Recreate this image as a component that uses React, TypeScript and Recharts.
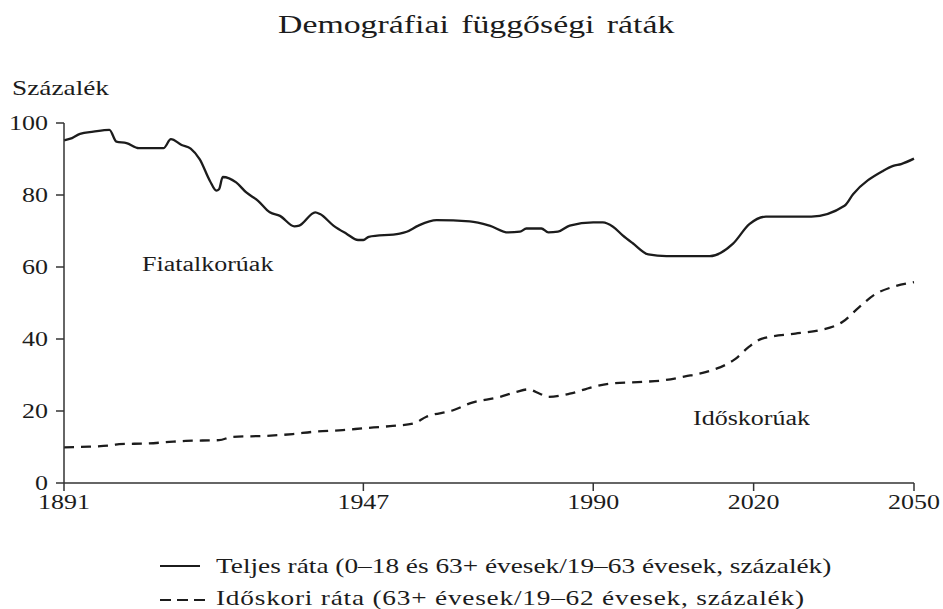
import { LineChart, Line, XAxis, YAxis } from "recharts";

const totalYears = [
  1891, 1892.5, 1894, 1896.5, 1899.5, 1900.8, 1902.7, 1905, 1909.6, 1911, 1913,
  1914.7, 1916.4, 1918.3, 1919.5, 1920, 1920.7, 1923.2, 1925.1, 1927.3, 1929.5,
  1931.4, 1934.1, 1935, 1938, 1938.9, 1941.4, 1943.9, 1946, 1947, 1948, 1953.8,
  1955.1, 1957.3, 1960.7, 1966.9, 1970.6, 1974.1, 1976.3, 1977.5, 1980.3, 1981.6,
  1983.4, 1985.6, 1990, 1991.8, 1993.7, 1995.5, 1997.4, 2000.3, 2003.7, 2011.8,
  2016.1, 2019.2, 2022.3, 2030.8, 2037, 2038.6, 2044.2, 2046.1, 2047.6, 2050,
];
const totalRate = [
  95.2, 95.8, 97.0, 97.6, 98.1, 94.8, 94.4, 93.0, 93.0, 95.5, 93.9, 92.9, 89.9,
  83.9, 81.2, 81.6, 85.0, 83.5, 80.7, 78.4, 75.2, 74.2, 71.3, 71.5, 75.2, 74.7,
  71.5, 69.2, 67.5, 67.5, 68.4, 69.3, 69.8, 71.5, 73.0, 72.7, 71.5, 69.6, 69.8,
  70.7, 70.7, 69.6, 69.8, 71.5, 72.4, 72.4, 71.2, 68.8, 66.6, 63.5, 63.0, 63.0,
  66.4, 71.9, 74.0, 74.0, 77.0, 80.2, 86.7, 88.1, 88.6, 90.1,
];

const oldYears = [
  1891, 1895.7, 1900.1, 1901.3, 1906.9, 1910.7, 1913.8, 1920, 1922.5, 1928.8,
  1933.8, 1937.5, 1943.1, 1947, 1952, 1956.3, 1958.8, 1963.8, 1966.9, 1972.5,
  1975.6, 1977.8, 1980, 1981.6, 1985.6, 1990, 1993.1, 1999.3, 2003, 2007.2, 2011,
  2016.6, 2019.1, 2021.6, 2027.8, 2032.2, 2036.6, 2039.7, 2042.8, 2045.9, 2050,
];
const oldRate = [
  9.9, 10.1, 10.5, 10.8, 11.0, 11.4, 11.7, 11.9, 12.8, 13.1, 13.6, 14.2, 14.7,
  15.2, 15.8, 16.5, 18.4, 20.2, 22.1, 23.9, 25.3, 26.0, 24.8, 23.9, 24.8, 26.7,
  27.6, 28.1, 28.5, 29.6, 30.8, 34.5, 37.8, 40.1, 41.5, 42.4, 44.7, 48.8, 52.5,
  54.4, 55.8,
];

const xTicks = [1891, 1947, 1990, 2020, 2050];
const yTicks = [0, 20, 40, 60, 80, 100];

const totalData = totalYears.map((year, i) => ({ year, value: totalRate[i] }));
const oldData = oldYears.map((year, i) => ({ year, value: oldRate[i] }));

const FONT = '"Liberation Serif", serif';
const INK = "#1c1c1c";
// the scanned type is noticeably wider than Times, so stretch it sideways
const STRETCH = 1.3;

const textStyle = (left: number, top: number, size: number): React.CSSProperties => ({
  position: "absolute",
  left,
  top,
  fontSize: size,
  lineHeight: `${size}px`,
  whiteSpace: "nowrap",
  color: INK,
  transform: `scaleX(${STRETCH})`,
  transformOrigin: "0 0",
});

function XTick(props: any) {
  const { x, y, payload } = props;
  return (
    <g transform={`translate(${x},${y})`}>
      <text
        transform={`scale(${STRETCH},1)`}
        textAnchor="middle"
        dy="0.71em"
        fill={INK}
        fontSize={20}
        fontFamily={FONT}
      >
        {payload.value}
      </text>
    </g>
  );
}

function YTick(props: any) {
  const { x, y, payload } = props;
  return (
    <g transform={`translate(${x},${y})`}>
      <text
        transform={`scale(${STRETCH},1)`}
        textAnchor="end"
        dy="0.355em"
        fill={INK}
        fontSize={20}
        fontFamily={FONT}
      >
        {payload.value}
      </text>
    </g>
  );
}

export default function App() {
  return (
    <div
      style={{
        position: "absolute",
        left: 0,
        top: 0,
        width: 943,
        height: 609,
        background: "#fff",
        fontFamily: FONT,
      }}
    >
      <div style={{ ...textStyle(278, 12, 26), wordSpacing: 3 }}>
        Demográfiai függőségi ráták
      </div>
      <div style={textStyle(12, 78, 21)}>Százalék</div>

      <LineChart
        width={943}
        height={609}
        margin={{ top: 123, right: 29, bottom: 96, left: 4 }}
      >
        <XAxis
          type="number"
          dataKey="year"
          domain={[1891, 2050]}
          ticks={xTicks}
          allowDuplicatedCategory={false}
          height={30}
          tick={<XTick />}
          tickSize={8}
          tickMargin={4}
          stroke="#333"
          strokeWidth={1.5}
        />
        <YAxis
          type="number"
          domain={[0, 100]}
          ticks={yTicks}
          width={60}
          tick={<YTick />}
          tickSize={8}
          tickMargin={8}
          stroke="#333"
          strokeWidth={1.5}
        />
        <Line
          data={totalData}
          dataKey="value"
          type="monotone"
          stroke={INK}
          strokeWidth={2.3}
          dot={false}
          isAnimationActive={false}
        />
        <Line
          data={oldData}
          dataKey="value"
          type="monotone"
          stroke={INK}
          strokeWidth={2.3}
          strokeDasharray="10 7"
          dot={false}
          isAnimationActive={false}
        />
      </LineChart>

      <div style={textStyle(142, 254, 20)}>Fiatalkorúak</div>
      <div style={textStyle(693, 408, 20)}>Időskorúak</div>

      <svg
        style={{ position: "absolute", left: 0, top: 0 }}
        width={943}
        height={609}
      >
        <line x1={160} x2={200} y1={566} y2={566} stroke={INK} strokeWidth={2} />
        <line
          x1={160}
          x2={205}
          y1={600}
          y2={600}
          stroke={INK}
          strokeWidth={2}
          strokeDasharray="11 6"
        />
      </svg>
      <div style={textStyle(216, 556, 21)}>
        Teljes ráta (0–18 és 63+ évesek/19–63 évesek, százalék)
      </div>
      <div style={{ ...textStyle(216, 588, 21), letterSpacing: 0.6 }}>
        Időskori ráta (63+ évesek/19–62 évesek, százalék)
      </div>
    </div>
  );
}
